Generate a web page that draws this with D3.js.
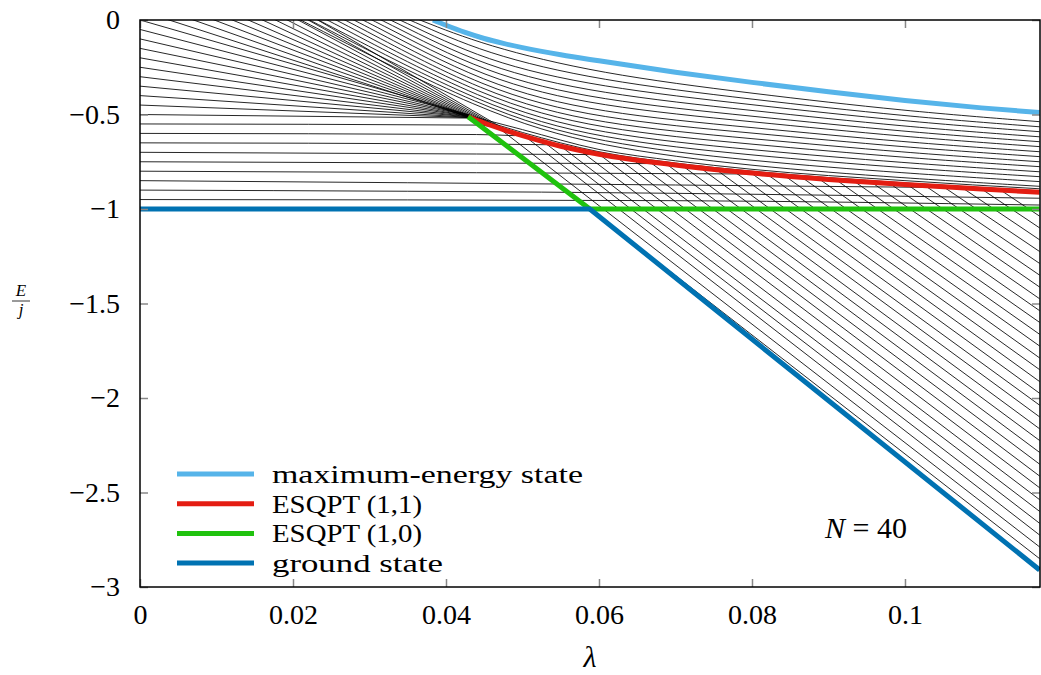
<!DOCTYPE html>
<html>
<head>
<meta charset="utf-8">
<script src="https://cdnjs.cloudflare.com/ajax/libs/d3/7.8.5/d3.min.js"></script>
<style>
  body { margin: 0; background: #fff; }
</style>
</head>
<body>
<svg id="chart" width="1041" height="675"></svg>
<script>
'use strict';

var serif = '"Liberation Serif", "DejaVu Serif", "Noto Serif", "Times New Roman", Times, serif';

// axis ticks
var xTicks = [0, 0.02, 0.04, 0.06, 0.08, 0.1];
var yTicks = [0, -0.5, -1, -1.5, -2, -2.5, -3];

// thick curves
var maxLam = [0.0383, 0.040, 0.0425, 0.045, 0.0475, 0.05, 0.055, 0.06, 0.07, 0.08, 0.09, 0.1, 0.11, 0.1176];
var maxE   = [0, -0.028, -0.066, -0.098, -0.124, -0.146, -0.184, -0.216, -0.276, -0.330, -0.380, -0.426, -0.465, -0.490];

var esq11Lam = [0.0429, 0.045, 0.0475, 0.05, 0.055, 0.06, 0.07, 0.08, 0.09, 0.1, 0.11, 0.1176];
var esq11E   = [-0.512, -0.545, -0.580, -0.612, -0.668, -0.710, -0.767, -0.810, -0.844, -0.871, -0.894, -0.912];

var esq10Lam = [0.0429, 0.0588, 0.1176];
var esq10E   = [-0.512, -1, -1];

var groundLam = [0, 0.0588, 0.1176];
var groundE   = [-1, -1, -2.91];

var lamEnd = 0.1176;

// steep levels coming in through the top edge and running into the (1,1) start
var topE0   = [0.55, 0.5, 0.45, 0.4, 0.35, 0.3, 0.25, 0.2, 0.15, 0.1, 0.05];
var topLam1 = [0.048, 0.0475, 0.047, 0.0465, 0.046, 0.0455, 0.045, 0.0445, 0.0441, 0.0437, 0.0433];
var topE1   = [-0.586, -0.580, -0.573, -0.566, -0.559, -0.552, -0.545, -0.537, -0.531, -0.525, -0.518];

// levels from the left edge that meet at the same point
var leftE0 = [0, -0.05, -0.1, -0.15, -0.2, -0.25, -0.3, -0.35, -0.4, -0.45, -0.5];
var leftLam1 = 0.0432;
var leftE1 = [-0.504, -0.505, -0.507, -0.508, -0.510, -0.511, -0.513, -0.514, -0.516, -0.517, -0.519];

// two levels that leave the same point and hug the (1,1) line from above
var hugLam = [0.0432, 0.05, 0.06, 0.07, 0.08, 0.1, 0.1176];
var hugE = [
    [-0.508, -0.580, -0.685, -0.745, -0.790, -0.850, -0.893],
    [-0.510, -0.595, -0.697, -0.757, -0.800, -0.862, -0.904]
];

// nearly flat levels below the bottleneck
var flatLevels = [
    [[0, -0.95], [0.07, -0.956], [0.1176, -0.979]],
    [[0, -0.90], [0.07, -0.917], [0.1176, -0.943]],
    [[0, -0.85], [0.07, -0.873], [0.107, -0.887]],
    [[0, -0.80], [0.044, -0.808], [0.081, -0.815]],
    [[0, -0.75], [0.044, -0.757], [0.0685, -0.76]],
    [[0, -0.70], [0.044, -0.709], [0.0593, -0.712]],
    [[0, -0.65], [0.044, -0.656], [0.0535, -0.66]],
    [[0, -0.60], [0.044, -0.606], [0.049, -0.612]],
    [[0, -0.55], [0.044, -0.556], [0.0458, -0.562]]
];

// steep levels leaving the (1,1) line
var diagLam0 = [0.0438, 0.0472, 0.0504, 0.0528, 0.055, 0.0575, 0.060, 0.0622, 0.0643, 0.0665,
                0.0687, 0.0709, 0.0732, 0.0753, 0.0776, 0.0799, 0.082, 0.0843, 0.0865, 0.0887,
                0.091, 0.0933, 0.0956, 0.098, 0.1003, 0.1026, 0.105, 0.1075, 0.11, 0.1125];
var diagE0 = [-0.527, -0.581, -0.618, -0.646, -0.668, -0.690, -0.710, -0.723, -0.735, -0.747,
              -0.759, -0.771, -0.781, -0.791, -0.800, -0.810, -0.817, -0.825, -0.832, -0.839,
              -0.846, -0.852, -0.858, -0.865, -0.871, -0.876, -0.882, -0.888, -0.894, -0.900];
var diagE1 = [-2.850, -2.788, -2.725, -2.663, -2.600, -2.538, -2.475, -2.413, -2.350, -2.288,
              -2.225, -2.163, -2.100, -2.038, -1.975, -1.913, -1.850, -1.788, -1.725, -1.663,
              -1.600, -1.538, -1.475, -1.413, -1.350, -1.288, -1.225, -1.163, -1.100, -1.038];

// levels above the (1,1) line: slope where they come in, entry point on the top edge,
// then E at upperLam
var upperSlope = [-20.6, -20.4, -20.2, -20.0, -19.6, -19.2, -18.8, -18.4, -18.0, -17.6, -17.2, -16.8, -16.4, -16.0];
var upperEntry = [0.021, 0.0222, 0.0234, 0.0246, 0.0258, 0.027, 0.0282,
                  0.0294, 0.0306, 0.0318, 0.033, 0.0342, 0.0354, 0.0366];
var upperLam = [0.045, 0.06, 0.08, 0.1, 0.1176];
var upperE = [
    [-0.495, -0.672, -0.775, -0.837, -0.880],
    [-0.478, -0.652, -0.747, -0.811, -0.855],
    [-0.460, -0.630, -0.717, -0.784, -0.829],
    [-0.440, -0.606, -0.688, -0.757, -0.803],
    [-0.418, -0.580, -0.658, -0.729, -0.776],
    [-0.395, -0.553, -0.628, -0.702, -0.750],
    [-0.370, -0.524, -0.598, -0.674, -0.723],
    [-0.343, -0.493, -0.569, -0.647, -0.697],
    [-0.314, -0.459, -0.538, -0.619, -0.670],
    [-0.284, -0.426, -0.509, -0.592, -0.644],
    [-0.252, -0.391, -0.479, -0.565, -0.618],
    [-0.218, -0.356, -0.449, -0.537, -0.591],
    [-0.178, -0.321, -0.420, -0.510, -0.565],
    [-0.135, -0.284, -0.389, -0.482, -0.538]
];

var legendNames = ['maximum-energy state', 'ESQPT (1,1)', 'ESQPT (1,0)', 'ground state'];
var legendWidths = [311, 150, 150, 171];
var legendColors = ['#56b4e9', '#e41d12', '#20c20e', '#0072b2'];

var svg = d3.select('#chart');
var x = d3.scaleLinear().domain([0, 0.11765]).range([140, 1040]);
var y = d3.scaleLinear().domain([-3, 0]).range([587, 20]);

svg.append('clipPath').attr('id', 'plotclip')
    .append('rect').attr('x', 140).attr('y', 20).attr('width', 900).attr('height', 567);

var plot = svg.append('g').attr('clip-path', 'url(#plotclip)');

var straight = d3.line().x(function(d) { return x(d[0]); }).y(function(d) { return y(d[1]); });
var smooth = d3.line().x(function(d) { return x(d[0]); }).y(function(d) { return y(d[1]); })
    .curve(d3.curveMonotoneX);
var soft = d3.line().x(function(d) { return x(d[0]); }).y(function(d) { return y(d[1]); })
    .curve(d3.curveBasis);

function zip(lams, es) {
    return lams.map(function(l, i) { return [l, es[i]]; });
}

var thin = plot.append('g').attr('fill', 'none').attr('stroke', '#000').attr('stroke-width', 0.85);

thin.selectAll('.top').data(topE0).enter().append('path')
    .attr('d', function(e0, i) { return straight([[0, e0], [topLam1[i], topE1[i]]]); });

thin.selectAll('.left').data(leftE0).enter().append('path')
    .attr('d', function(e0, i) { return straight([[0, e0], [leftLam1, leftE1[i]]]); });

thin.selectAll('.hug').data(hugE).enter().append('path')
    .attr('d', function(row) { return smooth(zip(hugLam, row)); });

thin.selectAll('.flat').data(flatLevels).enter().append('path')
    .attr('d', function(pts) { return smooth(pts); });

thin.selectAll('.diag').data(diagLam0).enter().append('path')
    .attr('d', function(l0, i) { return straight([[l0, diagE0[i]], [lamEnd, diagE1[i]]]); });

// a point just above the frame keeps the incoming part straight, the rest is smoothed
thin.selectAll('.upper').data(upperE).enter().append('path')
    .attr('d', function(row, i) {
        var pre = [upperEntry[i] - 0.006, -upperSlope[i] * 0.006];
        return soft([pre, [upperEntry[i], 0]].concat(zip(upperLam, row)));
    });

// thick curves, drawn in the order of the legend
var thick = [
    zip(maxLam, maxE),
    zip(esq11Lam, esq11E),
    zip(esq10Lam, esq10E),
    zip(groundLam, groundE)
];
plot.selectAll('.thick').data(thick).enter().append('path')
    .attr('fill', 'none')
    .attr('stroke', function(d, i) { return legendColors[i]; })
    .attr('stroke-width', 5)
    .attr('d', function(d, i) { return i < 2 ? smooth(d) : straight(d); });

// axes, ticks inside, mirrored
var fmt = d3.format('~g');
function styleAxis(sel) {
    sel.attr('font-family', null).attr('font-size', null);
    sel.select('.domain').remove();
    sel.selectAll('.tick line').attr('stroke', '#888').attr('stroke-width', 1.5);
    sel.selectAll('.tick text').style('font-size', '28px').style('font-family', serif);
}
svg.append('g').attr('transform', 'translate(0,587)')
    .call(d3.axisBottom(x).tickValues(xTicks).tickSize(-8).tickPadding(17).tickFormat(fmt))
    .call(styleAxis);
svg.append('g').attr('transform', 'translate(0,20)')
    .call(d3.axisTop(x).tickValues(xTicks).tickSize(-8).tickFormat(''))
    .call(styleAxis);
svg.append('g').attr('transform', 'translate(140,0)')
    .call(d3.axisLeft(y).tickValues(yTicks).tickSize(-8).tickPadding(20).tickFormat(fmt))
    .call(styleAxis);
svg.append('g').attr('transform', 'translate(1040,0)')
    .call(d3.axisRight(y).tickValues(yTicks).tickSize(-8).tickFormat(''))
    .call(styleAxis);

svg.append('rect').attr('x', 140).attr('y', 20).attr('width', 900).attr('height', 567)
    .attr('fill', 'none').attr('stroke', '#000').attr('stroke-width', 1.5);

// axis titles
svg.append('text').attr('x', 590).attr('y', 667).attr('text-anchor', 'middle')
    .style('font-family', serif).style('font-size', '30px').style('font-style', 'italic').text('λ');
svg.append('text').attr('x', 21).attr('y', 296).attr('text-anchor', 'middle')
    .style('font-family', serif).style('font-size', '17px').style('font-style', 'italic').text('E');
svg.append('line').attr('x1', 12).attr('x2', 30).attr('y1', 301).attr('y2', 301)
    .attr('stroke', '#000').attr('stroke-width', 0.8);
svg.append('text').attr('x', 21).attr('y', 315).attr('text-anchor', 'middle')
    .style('font-family', serif).style('font-size', '17px').style('font-style', 'italic').text('j');

// N label
var nlab = svg.append('text').attr('x', 866).attr('y', 538).attr('text-anchor', 'middle')
    .style('font-family', serif).style('font-size', '30px');
nlab.append('tspan').style('font-style', 'italic').text('N');
nlab.append('tspan').text(' = 40');

// legend
var legend = svg.append('g').selectAll('g').data(legendNames).enter().append('g')
    .attr('transform', function(d, i) { return 'translate(0,' + (474 + i * 29.7) + ')'; });
legend.append('line').attr('x1', 177).attr('x2', 254).attr('y1', 0).attr('y2', 0)
    .attr('stroke', function(d, i) { return legendColors[i]; }).attr('stroke-width', 5);
legend.append('text').attr('x', 272).attr('y', 9)
    .style('font-family', serif).style('font-size', '26px')
    .attr('textLength', function(d, i) { return legendWidths[i]; })
    .attr('lengthAdjust', 'spacingAndGlyphs')
    .text(function(d) { return d; });
</script>
</body>
</html>
